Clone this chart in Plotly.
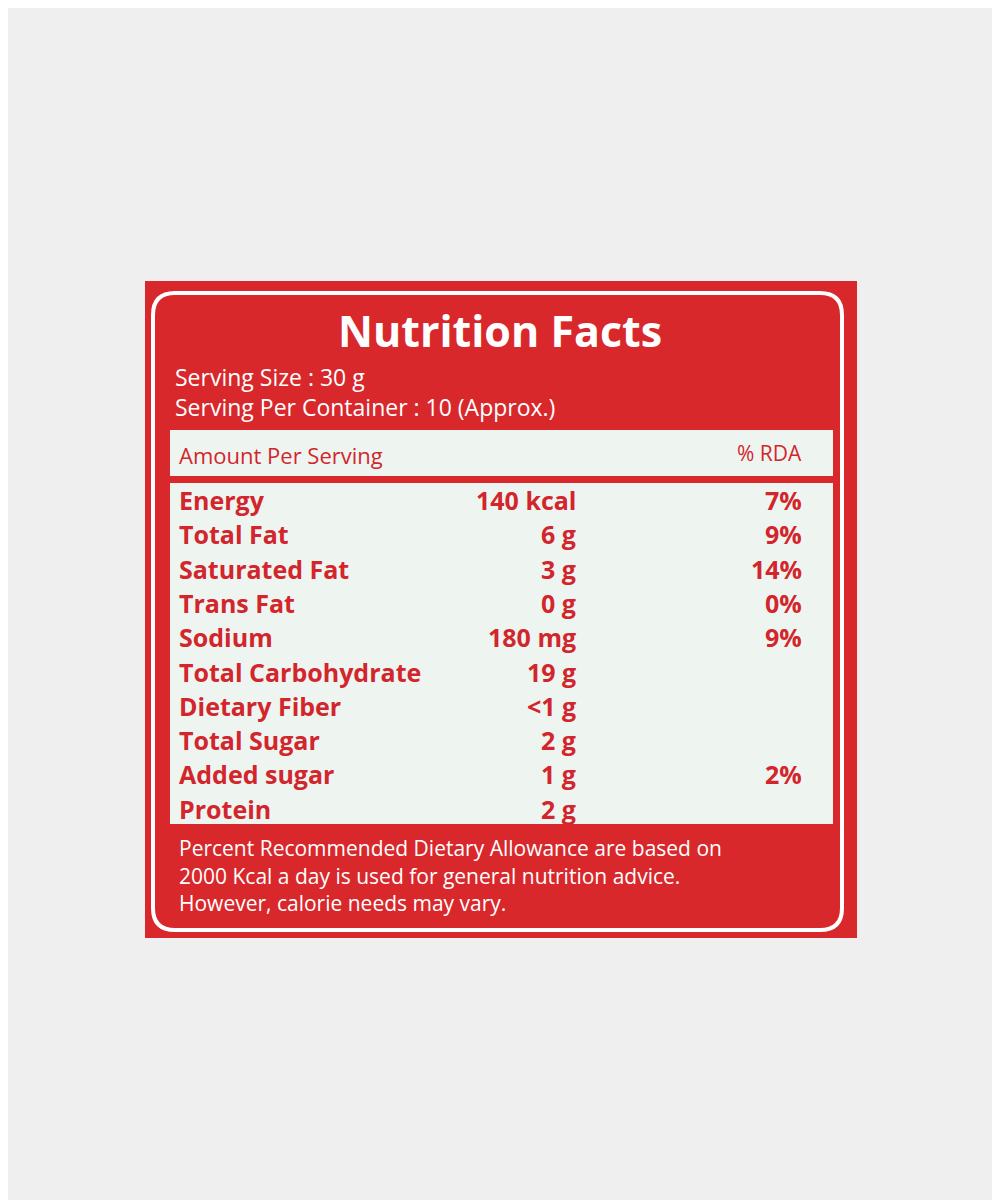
import plotly.graph_objects as go

nutrients = ["Energy", "Total Fat", "Saturated Fat", "Trans Fat", "Sodium",
             "Total Carbohydrate", "Dietary Fiber", "Total Sugar", "Added sugar", "Protein"]
amounts = ["140 kcal", "6 g", "3 g", "0 g", "180 mg", "19 g", "<1 g", "2 g", "1 g", "2 g"]
rda = ["7%", "9%", "14%", "0%", "9%", "", "", "", "2%", ""]
title = "Nutrition Facts"
serving = ["Serving Size : 30 g", "Serving Per Container : 10 (Approx.)"]
header = ["Amount Per Serving", "% RDA"]
footer = ["Percent Recommended Dietary Allowance are based on",
          "2000 Kcal a day is used for general nutrition advice.",
          "However, calorie needs may vary."]

RED = "#d8282c"
TXT = "#d2262c"
PANEL = "#eef5f1"
FONT = "Open Sans"

fig = go.Figure()
shapes = []
ann = []

def rrect(x0, y0, x1, y1, r):
    return (f"M{x0+r},{y0} L{x1-r},{y0} Q{x1},{y0} {x1},{y0+r} L{x1},{y1-r} "
            f"Q{x1},{y1} {x1-r},{y1} L{x0+r},{y1} Q{x0},{y1} {x0},{y1-r} "
            f"L{x0},{y0+r} Q{x0},{y0} {x0+r},{y0} Z")

shapes.append(dict(type="rect", x0=145, x1=857, y0=281, y1=938, fillcolor=RED, line_width=0, layer="below"))
shapes.append(dict(type="path", path=rrect(153, 293, 842, 930, 22), line=dict(color="white", width=4), fillcolor="rgba(0,0,0,0)"))
shapes.append(dict(type="rect", x0=170, x1=833, y0=430, y1=824, fillcolor=PANEL, line_width=0))
shapes.append(dict(type="rect", x0=170, x1=833, y0=476, y1=483, fillcolor=RED, line_width=0))

ann.append(dict(x=500, y=330, text=f"<b>{title}</b>", font=dict(size=43, color="white", family=FONT), showarrow=False))
for i, s in enumerate(serving):
    ann.append(dict(x=173, y=377 + i * 30, text=s, xanchor="left", font=dict(size=23, color="white", family=FONT), showarrow=False))
ann.append(dict(x=177, y=455, text=header[0], xanchor="left", font=dict(size=22, color=TXT, family=FONT), showarrow=False))
ann.append(dict(x=804, y=453, text=header[1], xanchor="right", font=dict(size=21, color=TXT, family=FONT), showarrow=False))

for i, (n, a, r) in enumerate(zip(nutrients, amounts, rda)):
    y = 500 + i * 34.3
    f = dict(size=25, color=TXT, family=FONT)
    ann.append(dict(x=177, y=y, text=f"<b>{n}</b>", xanchor="left", font=f, showarrow=False))
    ann.append(dict(x=578, y=y, text=f"<b>{a}</b>", xanchor="right", font=f, showarrow=False))
    if r:
        ann.append(dict(x=804, y=y, text=f"<b>{r}</b>", xanchor="right", font=f, showarrow=False))

for i, s in enumerate(footer):
    ann.append(dict(x=177, y=848 + i * 27.5, text=s, xanchor="left", font=dict(size=21, color="white", family=FONT), showarrow=False))

fig.update_layout(width=1000, height=1200, margin=dict(l=0, r=0, t=0, b=0),
                  paper_bgcolor="#efefef", plot_bgcolor="#efefef",
                  xaxis=dict(range=[8, 1008], visible=False),
                  yaxis=dict(range=[1208, 8], visible=False),
                  shapes=shapes, annotations=ann)
fig.write_html("out.html")
